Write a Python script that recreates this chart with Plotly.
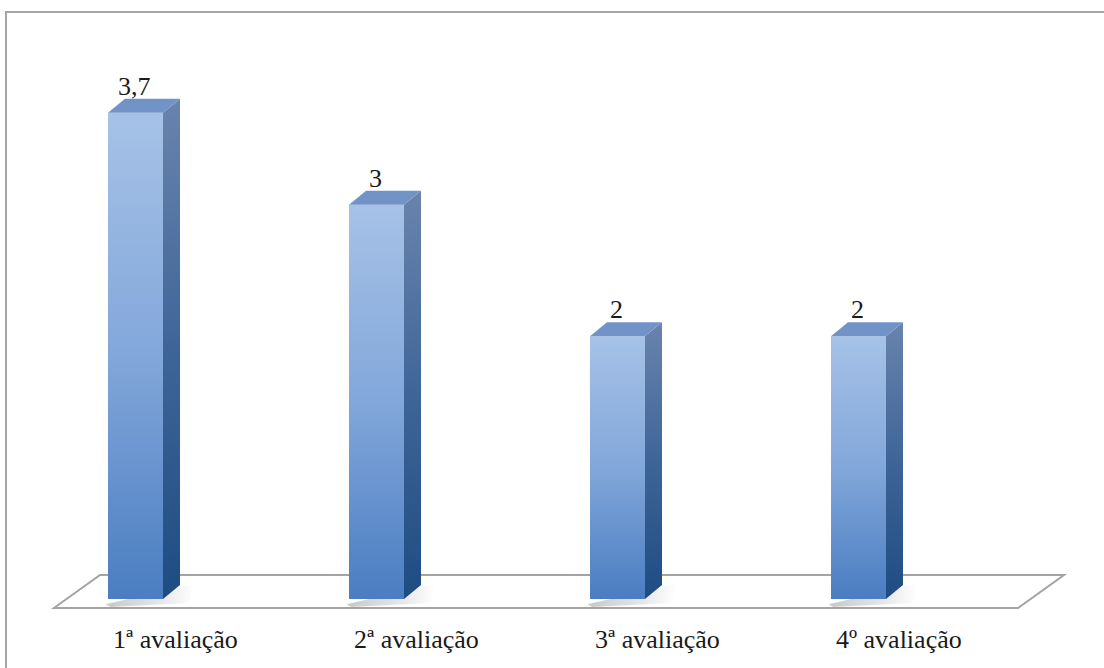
import plotly.graph_objects as go

# Data
categories = ["1ª avaliação", "2ª avaliação", "3ª avaliação", "4º avaliação"]
values = [3.7, 3, 2, 2]
value_labels = ["3,7", "3", "2", "2"]

W, H = 1104, 668
# pixel geometry of the plotting frame
PX_X0, PX_STEP = 135.5, 241.0        # pixel x of first category centre, spacing
PX_Y0, PX_PER_UNIT = 599.0, 131.4    # pixel y of value 0, pixels per unit

x_range = [-PX_X0 / PX_STEP, (W - PX_X0) / PX_STEP]
y_range = [-(H - PX_Y0) / PX_PER_UNIT, PX_Y0 / PX_PER_UNIT]

bar_w = 55 / PX_STEP           # front face width (x units)
dx = 17 / PX_STEP              # 3D depth offset in x
dy = 14 / PX_PER_UNIT          # 3D depth offset in y

FONT = "Liberation Serif"

fig = go.Figure()

front_scale = [[0, "#4a7dc1"], [0.5, "#82a7da"], [1, "#a6c2e7"]]
side_scale = [[0, "#1d4c83"], [0.5, "#3f6598"], [1, "#6984ad"]]

for i, v in enumerate(values):
    xl, xr = i - bar_w / 2, i + bar_w / 2
    # soft floor shadow behind the bar
    fig.add_trace(go.Scatter(
        x=[xl - 0.01, xr + dx + 0.06, xr + dx + 0.04, xl + 0.01],
        y=[-0.04, dy + 0.01, -0.03, -0.06],
        fill="toself", mode="lines", line=dict(width=0),
        fillgradient=dict(type="horizontal",
                          colorscale=[[0, "#c8c8c8"], [0.6, "#e6e6e6"], [1, "#ffffff"]]),
        hoverinfo="skip", showlegend=False))
    # front face
    fig.add_trace(go.Scatter(
        x=[xl, xr, xr, xl, xl], y=[0, 0, v, v, 0],
        fill="toself", mode="lines", line=dict(width=0),
        fillgradient=dict(type="vertical", colorscale=front_scale),
        hoverinfo="skip", showlegend=False))
    # side face
    fig.add_trace(go.Scatter(
        x=[xr, xr + dx, xr + dx, xr, xr], y=[0, dy, v + dy, v, 0],
        fill="toself", mode="lines", line=dict(width=0),
        fillgradient=dict(type="vertical", colorscale=side_scale),
        hoverinfo="skip", showlegend=False))
    # top face
    fig.add_trace(go.Scatter(
        x=[xl, xr, xr + dx, xl + dx, xl], y=[v, v, v + dy, v + dy, v],
        fill="toself", mode="lines", line=dict(width=0),
        fillcolor="#7293c7",
        hoverinfo="skip", showlegend=False))

# value labels above each bar
for i, (v, lab) in enumerate(zip(values, value_labels)):
    fig.add_annotation(x=i - 0.005, y=v + dy, text=lab, showarrow=False,
                       xanchor="center", yanchor="bottom", yshift=-4,
                       font=dict(family=FONT, size=26, color="#1a1a1a"))

# category labels
for i, c in enumerate(categories):
    fig.add_annotation(x=i + 40 / PX_STEP, y=y_range[0], yref="y", text=c,
                       showarrow=False, xanchor="center", yanchor="middle",
                       yshift=(H - 639),
                       font=dict(family=FONT, size=26, color="#1a1a1a"))

# floor of the 3D plot
floor_top = (PX_Y0 - 575) / PX_PER_UNIT
floor_bot = (PX_Y0 - 608) / PX_PER_UNIT
fig.add_shape(type="path", xref="x", yref="y", layer="below",
              path=(f"M {(54 - PX_X0) / PX_STEP},{floor_bot} "
                    f"L {(100 - PX_X0) / PX_STEP},{floor_top} "
                    f"L {(1064 - PX_X0) / PX_STEP},{floor_top} "
                    f"L {(1018 - PX_X0) / PX_STEP},{floor_bot} Z"),
              line=dict(color="#a3a3a3", width=2), fillcolor="white")

# outer chart border
fig.add_shape(type="rect", xref="paper", yref="paper", layer="below",
              x0=6 / W, x1=1.02, y0=-0.02, y1=1 - 12 / H,
              line=dict(color="#a6a6a6", width=2), fillcolor="rgba(0,0,0,0)")

fig.update_layout(
    width=W, height=H,
    margin=dict(l=0, r=0, t=0, b=0),
    paper_bgcolor="white", plot_bgcolor="white",
    xaxis=dict(range=x_range, visible=False, fixedrange=True),
    yaxis=dict(range=y_range, visible=False, fixedrange=True),
    showlegend=False,
)

fig.write_html("out.html")
